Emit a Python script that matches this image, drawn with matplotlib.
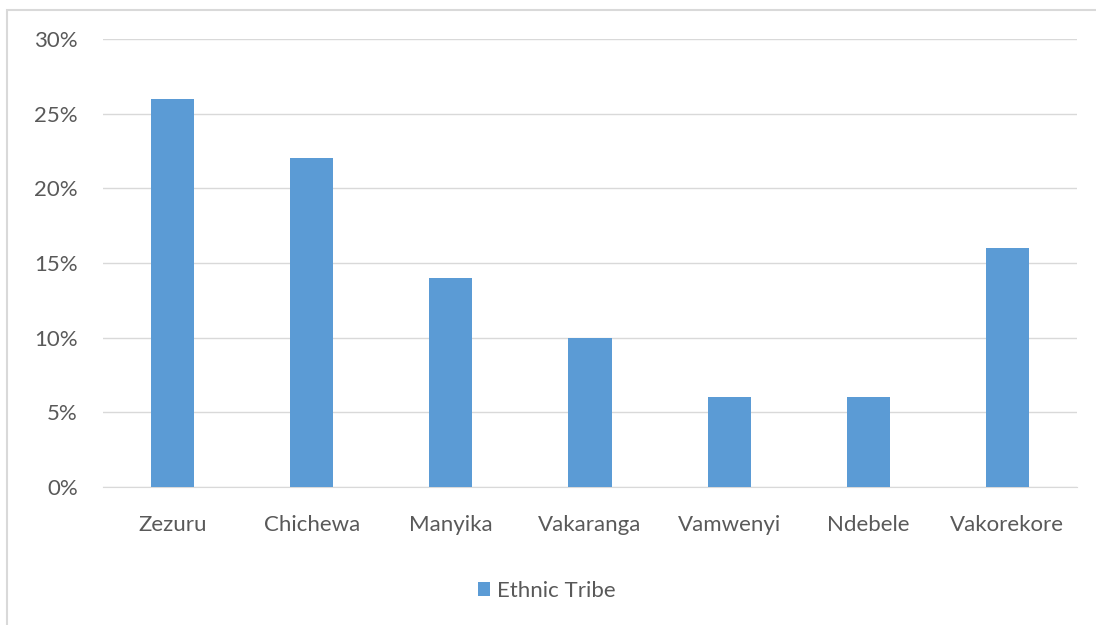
import matplotlib
matplotlib.use("Agg")
import matplotlib.pyplot as plt
from matplotlib.patches import Rectangle
from matplotlib.ticker import PercentFormatter

# data
tribes = ["Zezuru", "Chichewa", "Manyika", "Vakaranga", "Vamwenyi", "Ndebele", "Vakorekore"]
shares = [0.26, 0.22, 0.14, 0.10, 0.06, 0.06, 0.16]
series_name = "Ethnic Tribe"

bar_col = "#5B9BD5"
txt_col = "#595959"
grid_col = "#D9D9D9"

plt.rcParams["font.family"] = ["Lato", "DejaVu Sans"]

fig = plt.figure(figsize=(10.96, 6.25), dpi=100)
# chart area border (only top and left visible in the crop)
fig.patches.append(Rectangle((7 / 1096, -0.1), 1.2, 1 - 10 / 625 + 0.1,
                             transform=fig.transFigure, fill=False,
                             edgecolor=grid_col, linewidth=1.5))

ax = fig.add_axes([103 / 1096, 1 - 487 / 625, 974 / 1096, 448 / 625])
x = range(len(tribes))
ax.bar(x, shares, width=0.31, color=bar_col, label=series_name, zorder=3)

ax.set_xlim(-0.5, len(tribes) - 0.5)
ax.set_ylim(0, 0.30)
ax.set_yticks([0, 0.05, 0.10, 0.15, 0.20, 0.25, 0.30])
ax.yaxis.set_major_formatter(PercentFormatter(1.0, decimals=0))
ax.set_xticks(list(x))
ax.set_xticklabels(tribes)
ax.grid(axis="y", color=grid_col, linewidth=1, zorder=0)
for s in ["top", "right", "left"]:
    ax.spines[s].set_visible(False)
ax.spines["bottom"].set_color(grid_col)
ax.tick_params(axis="both", length=0, colors=txt_col, labelsize=16)
ax.tick_params(axis="y", pad=18)
ax.tick_params(axis="x", pad=20)

fig.legend(loc="center", bbox_to_anchor=(547 / 1096, 1 - 591 / 625), frameon=False,
           fontsize=16, labelcolor=txt_col, handlelength=0.55, handleheight=0.55,
           handletextpad=0.3)

fig.savefig("out.png", dpi=100)
